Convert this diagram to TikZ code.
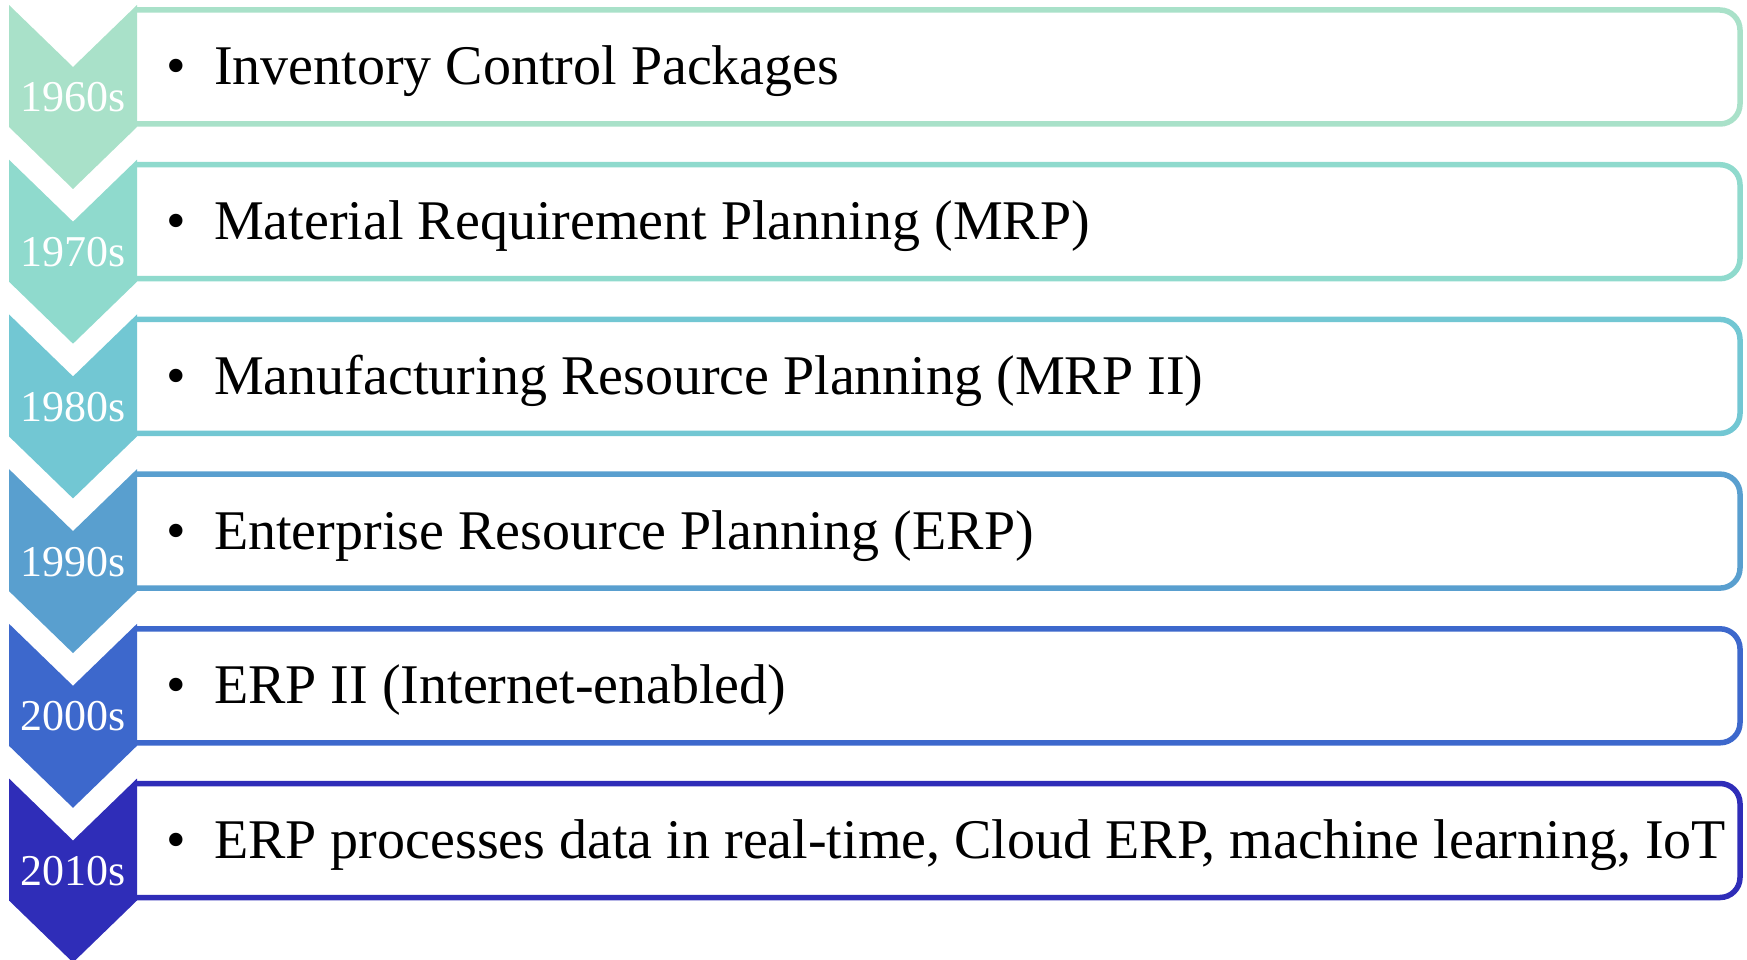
\documentclass[tikz,border=0pt]{standalone}
\usepackage{fontspec}
\setmainfont{Liberation Serif}
\definecolor{era1}{HTML}{A9E1C9}
\definecolor{era2}{HTML}{8FDACD}
\definecolor{era3}{HTML}{72C7D3}
\definecolor{era4}{HTML}{599FCF}
\definecolor{era5}{HTML}{3D68CC}
\definecolor{era6}{HTML}{2F2DB8}
\tikzset{
  chevron/.style={fill=#1, draw=none},
  framebox/.style={draw=#1, line width=5.5pt, rounded corners=20pt, fill=white},
  yearlabel/.style={text=white, anchor=base, inner sep=0pt, font=\fontsize{44}{48}\selectfont},
  itemtext/.style={text=black, anchor=base west, inner sep=0pt, font=\fontsize{56}{60}\selectfont},
  bulletmark/.style={text=black, anchor=base, inner sep=0pt, font=\fontsize{56}{60}\selectfont},
}
% one row of the timeline: #1 index, #2 top edge, #3 colour, #4 decade, #5 item
\newcommand\erarow[5]{%
  \draw[framebox=#3] (137,#2+5) -- (1740,#2+5) -- (1740,#2+119) -- (137,#2+119);
  \fill[chevron=#3] (9,#2) -- (73,#2+62) -- (137,#2) -- (137,#2+122) -- (73,#2+184) -- (9,#2+122) -- cycle;
  \node[yearlabel] (y#1) at (73,#2+107) {#4};
  \node[bulletmark] (b#1) at (176,#2+80) {•};
  \node[itemtext] (t#1) at (214,#2+80) {#5};
}
\begin{document}
\begin{tikzpicture}[x=1pt,y=-1pt]
  \useasboundingbox (0,0) rectangle (1747,960);
  \clip (0,0) rectangle (1747,960);
  \erarow{1}{5}{era1}{1960s}{Inventory Control Packages}
  \erarow{2}{159.7}{era2}{1970s}{Material Requirement Planning (MRP)}
  \erarow{3}{314.4}{era3}{1980s}{Manufacturing Resource Planning (MRP II)}
  \erarow{4}{469.1}{era4}{1990s}{Enterprise Resource Planning (ERP)}
  \erarow{5}{623.8}{era5}{2000s}{ERP II (Internet-enabled)}
  \erarow{6}{778.5}{era6}{2010s}{ERP processes data in real-time, Cloud ERP, machine learning, IoT}
\end{tikzpicture}
\end{document}
